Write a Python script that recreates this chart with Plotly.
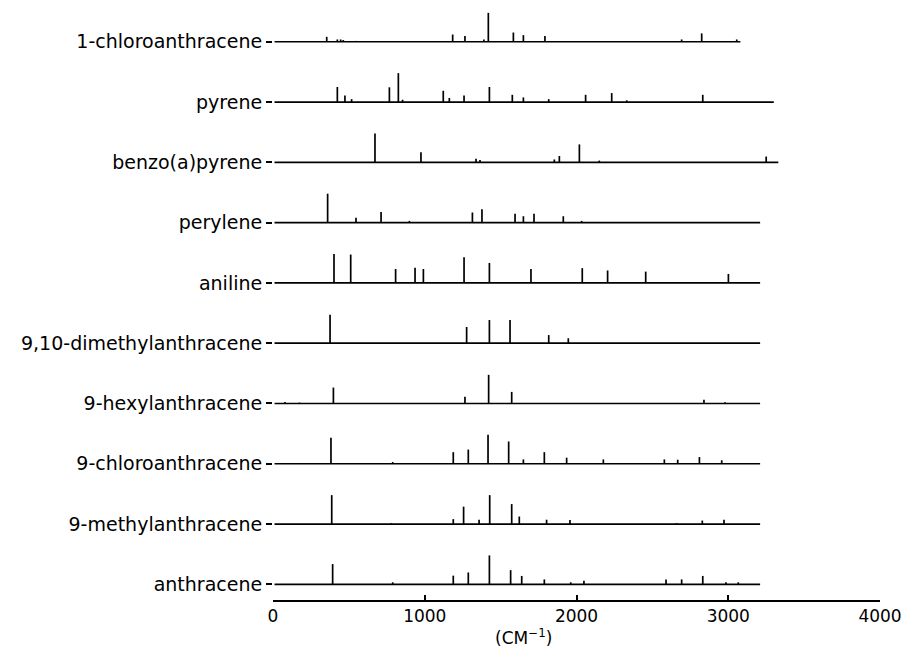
import plotly.graph_objects as go

# Compounds, bottom to top
compounds = ["anthracene", "9-methylanthracene", "9-chloroanthracene", "9-hexylanthracene",
             "9,10-dimethylanthracene", "aniline", "perylene", "benzo(a)pyrene", "pyrene",
             "1-chloroanthracene"]

# Baseline extent of each trace (cm^-1)
baseline_start = [10, 10, 10, 10, 10, 10, 10, 10, 10, 10]
baseline_end = [3210, 3210, 3210, 3210, 3210, 3210, 3210, 3330, 3300, 3080]

# Line positions (cm^-1) and relative intensities
anthracene_pos = [393, 789, 1188, 1287, 1426, 1566, 1639, 1788, 1962, 2049, 2590, 2693, 2832, 2985, 3066]
anthracene_int = [70, 7, 30, 41, 100, 49, 29, 17, 7, 12, 17, 17, 29, 7, 7]

methylanthracene_pos = [387, 778, 1188, 1256, 1358, 1428, 1573, 1623, 1803, 1957, 2660, 2829, 2972]
methylanthracene_int = [100, 3, 17, 60, 15, 100, 69, 26, 15, 14, 3, 12, 15]

chloroanthracene9_pos = [382, 789, 1188, 1287, 1417, 1553, 1650, 1788, 1935, 2177, 2579, 2667, 2810, 2957]
chloroanthracene9_int = [90, 6, 40, 49, 100, 77, 15, 40, 21, 15, 15, 14, 23, 12]

hexylanthracene_pos = [79, 174, 398, 1265, 1421, 1573, 2840, 2979]
hexylanthracene_int = [5, 3, 55, 23, 99, 40, 13, 4]

dimethylanthracene_pos = [376, 1276, 1426, 1562, 1817, 1946]
dimethylanthracene_int = [98, 56, 80, 80, 28, 17]

aniline_pos = [402, 512, 808, 936, 991, 1259, 1426, 1700, 2038, 2205, 2456, 3001]
aniline_int = [100, 98, 48, 52, 48, 89, 69, 48, 51, 43, 39, 31]

perylene_pos = [360, 547, 712, 899, 1314, 1377, 1595, 1650, 1720, 1913, 2034]
perylene_int = [100, 17, 37, 6, 35, 46, 31, 22, 31, 22, 6]

benzopyrene_pos = [672, 975, 1338, 1364, 1854, 1887, 2019, 2150, 3250]
benzopyrene_int = [100, 35, 12, 8, 10, 22, 62, 6, 20]

pyrene_pos = [424, 474, 518, 767, 826, 854, 1122, 1162, 1259, 1426, 1577, 1650, 1817, 2060, 2232, 2331, 2832]
pyrene_int = [52, 23, 10, 51, 100, 8, 39, 14, 23, 52, 25, 16, 10, 25, 31, 6, 25]

chloroanthracene1_pos = [354, 424, 446, 463, 545, 1184, 1265, 1390, 1419, 1584, 1650, 1792, 2693, 2825, 3056]
chloroanthracene1_int = [17, 8, 8, 6, 3, 25, 20, 8, 100, 32, 23, 20, 8, 29, 8]

positions = [anthracene_pos, methylanthracene_pos, chloroanthracene9_pos, hexylanthracene_pos,
             dimethylanthracene_pos, aniline_pos, perylene_pos, benzopyrene_pos, pyrene_pos,
             chloroanthracene1_pos]
intensities = [anthracene_int, methylanthracene_int, chloroanthracene9_int, hexylanthracene_int,
               dimethylanthracene_int, aniline_int, perylene_int, benzopyrene_int, pyrene_int,
               chloroanthracene1_int]

x_ticks = [0, 1000, 2000, 3000, 4000]
x_title = "(CM<sup>\u22121</sup>)"

SCALE = 0.48 / 100.0  # intensity 100 -> 0.48 of the row spacing

fig = go.Figure()
for i, name in enumerate(compounds):
    xs = [baseline_start[i], baseline_end[i], None]
    ys = [i, i, None]
    for p, h in zip(positions[i], intensities[i]):
        xs += [p, p, None]
        ys += [i, i + h * SCALE, None]
    fig.add_trace(go.Scatter(x=xs, y=ys, mode="lines", name=name,
                             line=dict(color="black", width=1.7),
                             showlegend=False, hoverinfo="skip"))

fig.add_annotation(x=1650, xref="x", y=-0.062, yref="paper", text=x_title,
                   showarrow=False, xanchor="center", yanchor="middle",
                   font=dict(family="DejaVu Sans", size=17, color="black"))

fig.update_layout(
    width=910, height=651,
    margin=dict(l=273, r=30, t=5, b=51),
    paper_bgcolor="white", plot_bgcolor="white",
    font=dict(family="DejaVu Sans", size=17, color="black"),
    xaxis=dict(range=[0, 4000], tickvals=x_ticks, ticktext=[str(v) for v in x_ticks],
               ticks="inside", ticklen=5, tickcolor="black", tickwidth=1.5,
               showline=True, linecolor="black", linewidth=1.5,
               showgrid=False, zeroline=False, automargin=False,
               tickfont=dict(family="DejaVu Sans", size=17)),
    yaxis=dict(range=[-0.26, 9.61], tickvals=list(range(len(compounds))), ticktext=compounds,
               ticks="outside", ticklen=6, tickcolor="black", tickwidth=1.5,
               showline=False, showgrid=False, zeroline=False, automargin=False,
               tickfont=dict(family="DejaVu Sans", size=19)),
)

fig.write_html("out.html", config={"displayModeBar": False},
               post_script="document.body.style.margin='0';document.body.style.overflow='hidden';")
